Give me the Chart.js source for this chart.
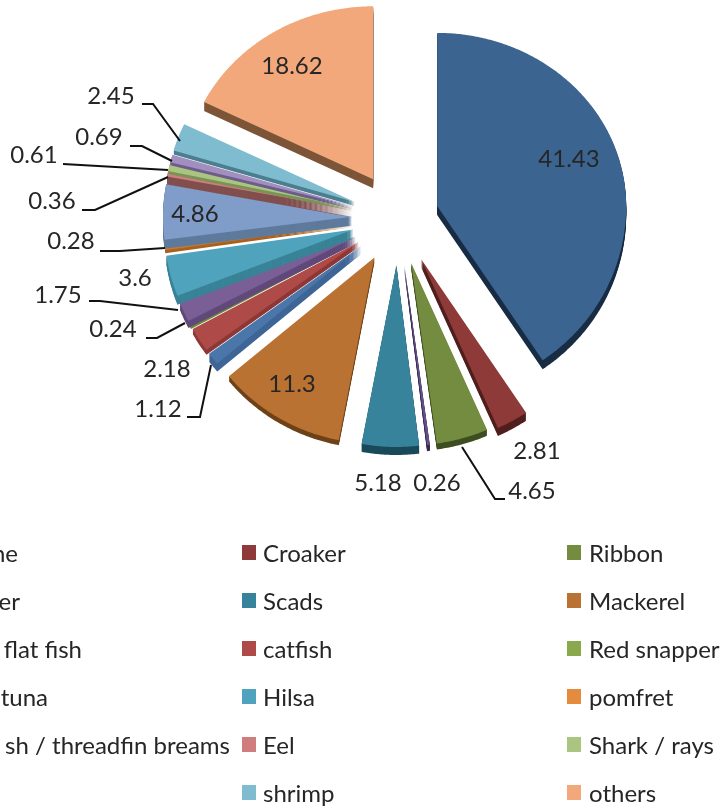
<!DOCTYPE html>
<html><head><meta charset="utf-8">
<script src="https://cdn.jsdelivr.net/npm/chart.js@4"></script>
<style>html,body{margin:0;padding:0;background:#fff;overflow:hidden}canvas{display:block;filter:blur(0.4px)}</style>
</head><body><canvas id="c" width="723" height="809"></canvas>
<script>
const categories = ["ne","er","flat fish","tuna","sh / threadfin breams","","Croaker","Scads","catfish","Hilsa","Eel","shrimp","Ribbon","Mackerel","Red snapper","pomfret","Shark / rays","others"];
const sliceNames = ["ne","Croaker","Ribbon","er","Scads","Mackerel","flat fish","catfish","Red snapper","tuna","Hilsa","pomfret","sh / threadfin breams","Eel","Shark / rays","","shrimp","others"];
const values = [41.43,2.81,4.65,0.26,5.18,11.3,1.12,2.18,0.24,1.75,3.6,0.28,4.86,0.36,0.61,0.69,2.45,18.62];
const faceColors = ["#3c6491","#8e3a39","#738c40","#63508a","#37839b","#ba7232","#4a76aa","#ae4a48","#8aa94c","#7a5f96","#4fa3bd","#c97a30","#809dc9","#cf7e7d","#aac57f","#a28fc0","#7fbcd0","#f2a87b"];
const sideColors = ["#182c44","#501f1e","#3f4e20","#352a4c","#1a4a59","#6e4218","#3e6596","#8d3836","#6e8a38","#61497b","#398397","#a8621f","#5e7a9c","#824f4e","#7a9257","#6d5d8a","#4b7f8e","#7d5538"];
const explode = [41,47,47,47,47,46,46,46,46,46,46,46,46,46,46,46,46,46];
const depths = [9,8,6,6,8,5,8,5,3,7,9,3,9,8,3,3,4,9];
const ryUp = {0:173,17:173};
const ryDown = {0:186,1:185,5:186};

const labelSpots = [[569,159],[537,451],[532,491],[437,483],[378,483],[292,384],[158,409],[167,369],[113,329],[58,295],[135,278],[71,241],[195,214],[52,201],[34,155],[99,137],[111,96],[292,66]];
const leaders = {
  16:[[142,104],[153,104],[180,141]],
  15:[[130,146],[142,146],[172,161]],
  14:[[63,164],[168,170]],
  13:[[82,210],[95,210],[168,177]],
  11:[[100,251],[120,251],[165,248]],
  9:[[89,301],[100,301],[178,310]],
  8:[[146,338],[157,338],[185,323]],
  6:[[187,417],[200,417],[211,365]],
  2:[[505,499],[495,499],[462,447]]
};
const FONT = '24px Lato, "Open Sans", sans-serif';
const RX = 189, RY_UP = 181, RY_DOWN = 182;

function rimRadius(i,phi){
  const s=Math.sin(phi), c=Math.cos(phi);
  const ry = s<0 ? (ryUp[i]||RY_UP) : (ryDown[i]||RY_DOWN);
  return 1/Math.sqrt(c*c/(RX*RX)+s*s/(ry*ry));
}
function wedge(ctx,a,i,shift){
  const mid=(a.startAngle+a.endAngle)/2, d=explode[i];
  const x=a.x+Math.cos(mid)*d, y=a.y+Math.sin(mid)*d+shift;
  const n=Math.max(2,Math.ceil((a.endAngle-a.startAngle)/0.01));
  ctx.beginPath();ctx.moveTo(x,y);
  for(let j=0;j<=n;j++){
    const p=a.startAngle+(a.endAngle-a.startAngle)*j/n, r=rimRadius(i,p);
    ctx.lineTo(x+Math.cos(p)*r,y+Math.sin(p)*r);
  }
  ctx.closePath();ctx.fill();
}

const pie3d = {
  id:'pie3d',
  beforeDatasetDraw(chart){
    const ctx=chart.ctx;
    chart.getDatasetMeta(0).data.forEach((a,i)=>{
      ctx.fillStyle=sideColors[i];
      for(let k=depths[i];k>=1;k--) wedge(ctx,a,i,k);
      ctx.fillStyle=faceColors[i];
      wedge(ctx,a,i,0);
    });
    return false;
  },
  afterDraw(chart){
    const ctx=chart.ctx;
    ctx.save();
    ctx.strokeStyle='#111';ctx.lineWidth=2;ctx.lineJoin='miter';
    Object.values(leaders).forEach(p=>{
      ctx.beginPath();p.forEach((q,i)=>i?ctx.lineTo(q[0],q[1]):ctx.moveTo(q[0],q[1]));ctx.stroke();
    });
    ctx.font=FONT;ctx.fillStyle='#262626';ctx.textAlign='center';ctx.textBaseline='middle';
    values.forEach((v,i)=>ctx.fillText(String(v),labelSpots[i][0],labelSpots[i][1]));
    ctx.textBaseline='alphabetic';
    const rows=[553,601,649,697,745,793];
    const col1Ends=[18,20,82,48,230,null];
    categories.slice(0,6).forEach((t,r)=>{
      if(!t) return;
      ctx.textAlign='right';ctx.fillText(t,col1Ends[r],rows[r]+9);
    });
    [[6,242,263],[12,567,589]].forEach(([start,sx,tx])=>{
      categories.slice(start,start+6).forEach((t,r)=>{
        const idx=sliceNames.indexOf(t);
        ctx.fillStyle=t==='pomfret'?'#e58b3e':faceColors[idx];ctx.fillRect(sx,rows[r]-8,14,15);
        ctx.fillStyle='#262626';ctx.textAlign='left';ctx.fillText(t,tx,rows[r]+9);
      });
    });
    ctx.restore();
  }
};

new Chart(document.getElementById('c'),{
  type:'pie',
  data:{labels:sliceNames,datasets:[{data:values,backgroundColor:faceColors,borderWidth:0}]},
  options:{
    responsive:false,animation:false,radius:189,
    layout:{padding:{left:73,top:0,right:0,bottom:373}},
    plugins:{legend:{display:false},tooltip:{enabled:false},title:{display:false}}
  },
  plugins:[pie3d]
});
</script></body></html>
